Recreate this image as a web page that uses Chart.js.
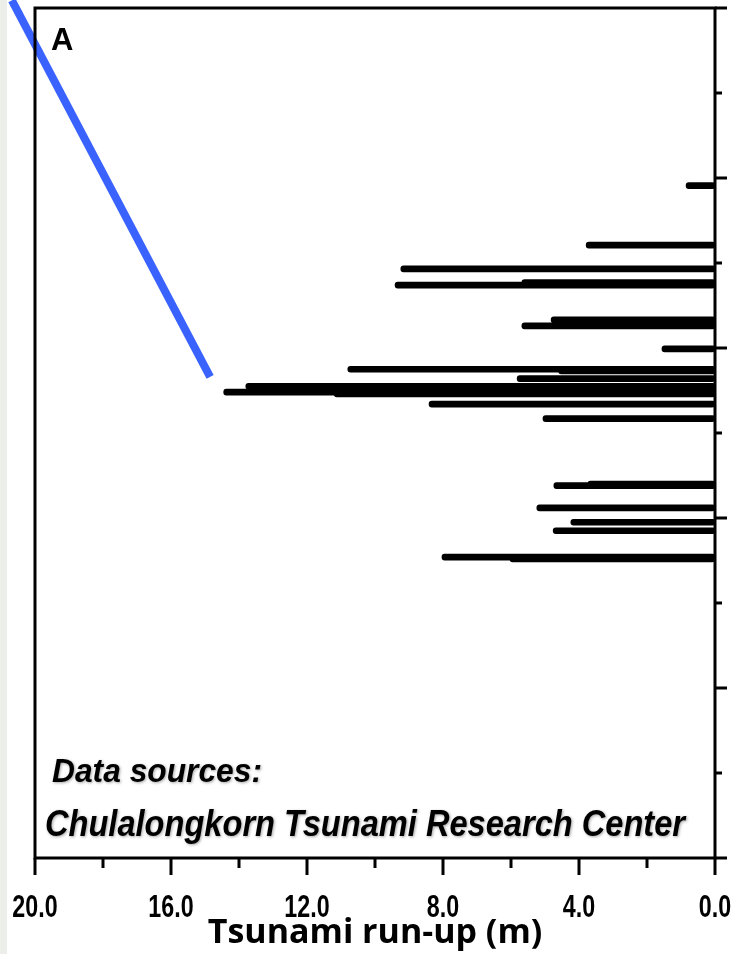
<!DOCTYPE html>
<html>
<head>
<meta charset="utf-8">
<title>Tsunami run-up</title>
<script src="https://cdn.jsdelivr.net/npm/chart.js@4.4.1/dist/chart.umd.min.js"></script>
<style>
    html, body { margin: 0; padding: 0; }
    body { background: linear-gradient(to right, #eceee9 0, #eceee9 7px, #ffffff 7px); }
    #wrap { width: 731px; height: 954px; position: relative; }
</style>
</head>
<body>
<div id="wrap"><canvas id="runupChart"></canvas></div>
<script>
// Site position along the coast (axis units, 0 = bottom, 10 = top)
const sitePositions = [7.91, 7.21, 6.93, 6.74, 6.77, 6.33, 6.26, 5.99, 5.75, 5.73, 5.64,
    5.55, 5.48, 5.46, 5.34, 5.17, 4.40, 4.38, 4.12, 3.95, 3.85, 3.54, 3.52];
// Tsunami run-up at each site (m)
const runupValues = [0.85, 3.79, 9.24, 9.41, 5.68, 4.82, 5.68, 1.56, 10.8, 4.6, 5.82,
    13.8, 14.45, 11.2, 8.41, 5.06, 3.74, 4.74, 5.24, 4.24, 4.76, 8.03, 6.03];

// x axis ticks (every 2 m, labelled every 4 m)
const xTickValues = [0, 2, 4, 6, 8, 10, 12, 14, 16, 18, 20];
const xTickLabels = { 0: "0.0", 4: "4.0", 8: "8.0", 12: "12.0", 16: "16.0", 20: "20.0" };
// right axis ticks (major on even values)
const yTickValues = [0, 1, 2, 3, 4, 5, 6, 7, 8, 9, 10];

// blue pointer line, in data units
const pointerRunup = [20.68, 14.85];
const pointerPosition = [10.09, 5.66];

const SANS = '"Liberation Sans", Arial, sans-serif';

// Draw text squeezed horizontally by a factor (no narrow face installed)
function drawScaled(ctx, text, x, y, sx, align) {
    const w = ctx.measureText(text).width * sx;
    let x0 = x;
    if (align === "center") x0 = x - w / 2;
    if (align === "right") x0 = x - w;
    ctx.save();
    ctx.translate(x0, y);
    ctx.scale(sx, 1);
    ctx.textAlign = "left";
    ctx.fillText(text, 0, 0);
    ctx.restore();
}

// Draw text so that it fills a given width
function fitText(ctx, text, x, y, width) {
    drawScaled(ctx, text, x, y, width / ctx.measureText(text).width, "left");
}

const framePlugin = {
    id: "frame",
    afterDraw(chart) {
        const { ctx, chartArea, scales } = chart;
        const { left, right, top, bottom } = chartArea;
        ctx.save();
        ctx.strokeStyle = "#000";
        ctx.lineWidth = 3;
        ctx.lineCap = "butt";

        // frame: left, top, right axis, bottom axis
        ctx.beginPath();
        ctx.moveTo(left, bottom + 1.5);
        ctx.lineTo(left, top);
        ctx.lineTo(right, top);
        ctx.moveTo(right, top - 1.5);
        ctx.lineTo(right, bottom + 1.5);
        ctx.moveTo(left - 1.5, bottom);
        ctx.lineTo(right, bottom);
        ctx.stroke();

        // right axis ticks (pointing out)
        ctx.beginPath();
        yTickValues.forEach((v) => {
            const py = scales.y.getPixelForValue(v);
            const len = v % 2 === 0 ? 12 : 7;
            ctx.moveTo(right, py);
            ctx.lineTo(right + len, py);
        });
        // bottom axis ticks (pointing down)
        xTickValues.forEach((v) => {
            const px = scales.x.getPixelForValue(v);
            const len = v % 4 === 0 ? 17 : 10;
            ctx.moveTo(px, bottom);
            ctx.lineTo(px, bottom + len);
        });
        ctx.stroke();

        ctx.fillStyle = "#000";
        ctx.textBaseline = "alphabetic";

        // bottom tick labels, condensed like a narrow face
        ctx.font = "bold 31px " + SANS;
        xTickValues.forEach((v) => {
            if (!xTickLabels[v]) return;
            drawScaled(ctx, xTickLabels[v], scales.x.getPixelForValue(v), bottom + 59, 0.75, "center");
        });

        // panel letter
        ctx.font = "bold 31px " + SANS;
        ctx.fillText("A", left + 16, top + 42);

        // data source note
        ctx.shadowColor = "rgba(0,0,0,0.35)";
        ctx.shadowBlur = 3;
        ctx.shadowOffsetX = 1;
        ctx.shadowOffsetY = 1;
        ctx.font = "italic bold 33px " + SANS;
        fitText(ctx, "Data sources:", left + 17, bottom - 76, 210);
        ctx.font = "italic bold 37px " + SANS;
        fitText(ctx, "Chulalongkorn Tsunami Research Center", left + 10, bottom - 22, 640);
        ctx.restore();
    },
};

const barData = sitePositions.map((pos, i) => ({ y: pos, x: runupValues[i] }));
const pointerData = pointerRunup.map((v, i) => ({ x: v, y: pointerPosition[i] }));

new Chart(document.getElementById("runupChart"), {
    type: "bar",
    data: {
        datasets: [
            {
                type: "line",
                data: pointerData,
                borderColor: "#3a62ff",
                borderWidth: 8,
                borderCapStyle: "butt",
                pointRadius: 0,
                clip: false,
                order: 0,
            },
            {
                data: barData,
                backgroundColor: "#000",
                barThickness: 6,
                borderRadius: 3,
                borderSkipped: false,
                order: 1,
            },
        ],
    },
    options: {
        indexAxis: "y",
        responsive: true,
        maintainAspectRatio: false,
        animation: false,
        layout: { padding: { left: 35, top: 8, right: 0, bottom: 0 } },
        plugins: {
            legend: { display: false },
            tooltip: { enabled: false },
        },
        scales: {
            x: {
                type: "linear",
                position: "bottom",
                min: 0,
                max: 20,
                reverse: true,
                afterFit: (scale) => { scale.height = 96; },
                grid: { display: false },
                border: { display: false },
                ticks: { display: false },
                title: {
                    display: true,
                    text: "Tsunami run-up (m)",
                    color: "#000",
                    padding: { top: 0, bottom: 0 },
                    font: { family: '"Open Sans", sans-serif', size: 34, weight: "bold" },
                },
            },
            y: {
                type: "linear",
                position: "right",
                min: 0,
                max: 10,
                offset: false,
                afterFit: (scale) => { scale.width = 16; },
                grid: { display: false, offset: false },
                border: { display: false },
                ticks: { display: false, stepSize: 1 },
            },
        },
    },
    plugins: [framePlugin],
});
</script>
</body>
</html>
